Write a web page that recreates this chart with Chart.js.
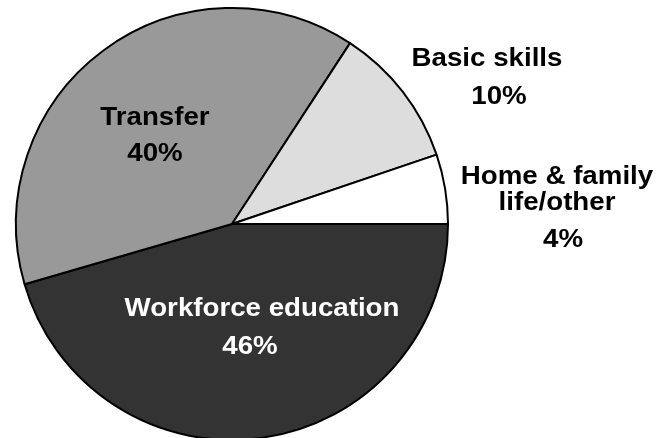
<!DOCTYPE html>
<html>
<head>
<meta charset="utf-8">
<script src="https://cdn.jsdelivr.net/npm/chart.js@4/dist/chart.umd.min.js"></script>
<style>
  html, body { margin: 0; padding: 0; background: #fff; overflow: hidden; }
  #wrap { position: absolute; left: 0; top: 0; width: 662px; height: 448px; }
</style>
</head>
<body>
<div id="wrap"><canvas id="pieChart"></canvas></div>
<script>
  // slices, clockwise from 3 o'clock
  const categories = ["Workforce education", "Transfer", "Basic skills", "Home & family life/other"];
  const shares = [45.5, 38.7, 10.6, 5.2];
  const percentLabels = ["46%", "40%", "10%", "4%"];
  const sliceColors = ["#333333", "#999999", "#dddddd", "#ffffff"];

  // label lines drawn around the pie, offsets from pie centre
  const labelLayout = [
    { color: "#fff", lines: [["Workforce education", 30, 85], [percentLabels[0], 18, 123]] },
    { color: "#000", lines: [["Transfer", -77, -106], [percentLabels[1], -77, -70]] },
    { color: "#000", lines: [["Basic skills", 255, -165], [percentLabels[2], 267, -127]] },
    { color: "#000", lines: [["Home & family", 325, -47], ["life/other", 325, -21], [percentLabels[3], 331, 16]] }
  ];

  const sliceLabels = {
    id: "sliceLabels",
    afterDatasetsDraw(chart) {
      const arc = chart.getDatasetMeta(0).data[0];
      const ctx = chart.ctx;
      ctx.font = "bold 26px 'Liberation Sans', Arial, sans-serif";
      ctx.textAlign = "center";
      ctx.textBaseline = "middle";
      labelLayout.forEach((lab) => {
        ctx.fillStyle = lab.color;
        lab.lines.forEach(([txt, dx, dy]) => {
          // source font is a touch wider than Liberation Sans
          ctx.save();
          ctx.translate(arc.x + dx, arc.y + dy);
          ctx.scale(1.065, 1);
          ctx.fillText(txt, 0, 0);
          ctx.restore();
        });
      });
    }
  };

  new Chart(document.getElementById("pieChart").getContext("2d"), {
    type: "pie",
    data: {
      labels: categories,
      datasets: [{
        data: shares,
        backgroundColor: sliceColors,
        borderColor: "#000",
        borderWidth: 2
      }]
    },
    options: {
      responsive: true,
      maintainAspectRatio: false,
      animation: false,
      rotation: 90,
      layout: { padding: { left: 15, right: 213, top: 7, bottom: 7 } },
      plugins: {
        legend: { display: false },
        tooltip: { enabled: false }
      }
    },
    plugins: [sliceLabels]
  });
</script>
</body>
</html>
